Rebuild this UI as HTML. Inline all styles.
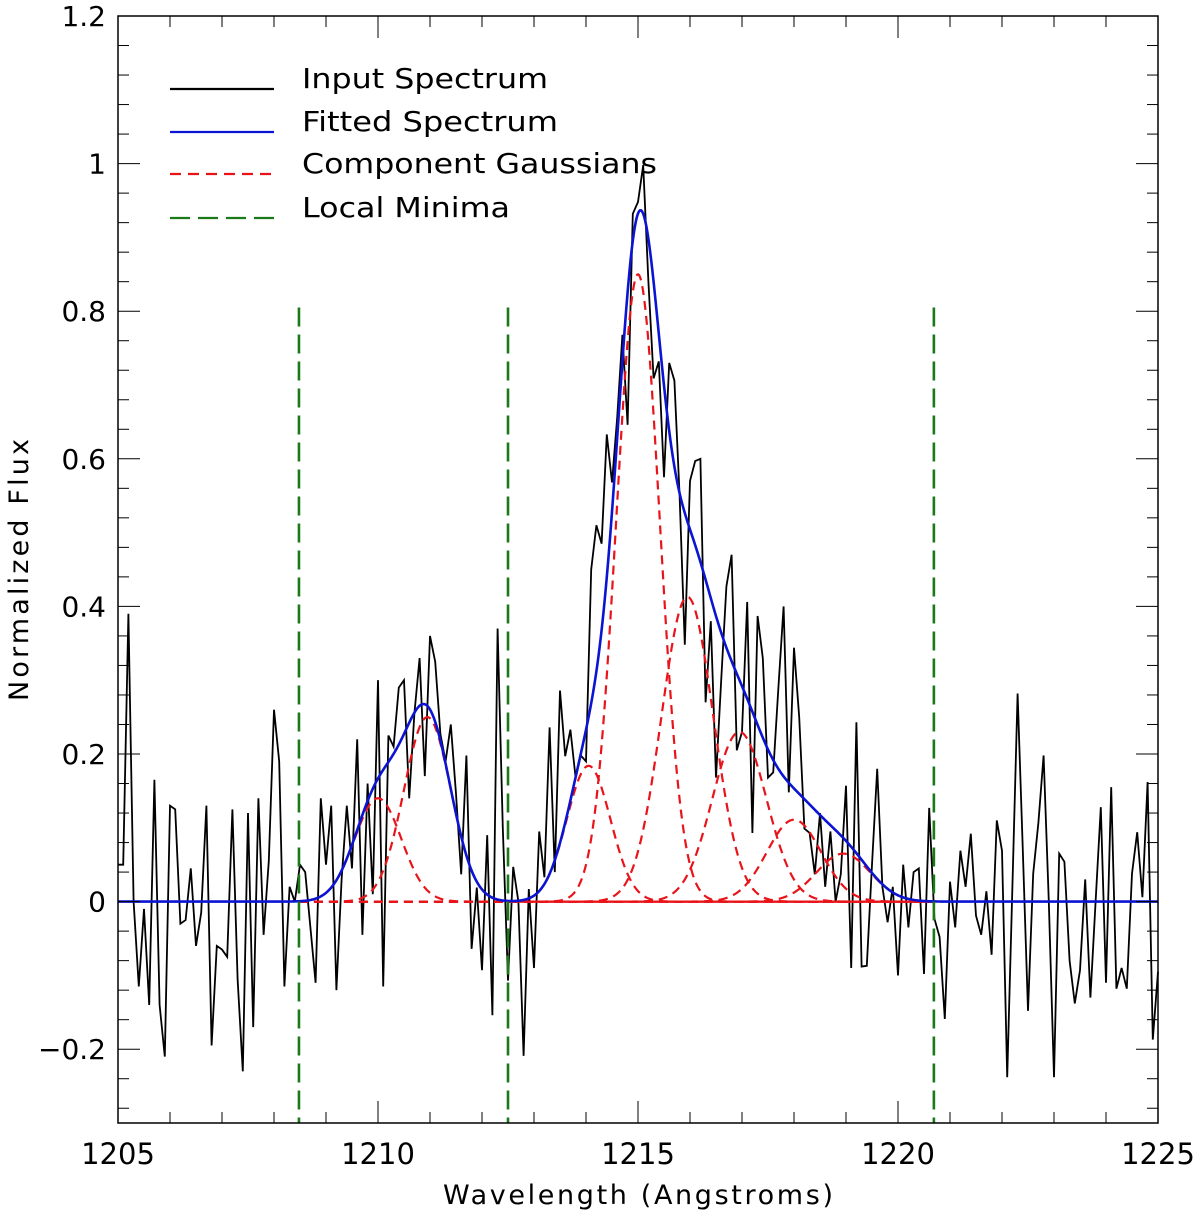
<!DOCTYPE html>
<html><head><meta charset="utf-8"><style>
html,body{margin:0;padding:0;background:#fff;}
svg{display:block;font-family:"DejaVu Sans","Liberation Sans",sans-serif;}
</style></head><body>
<svg id="chart" width="1200" height="1215" viewBox="0 0 1200 1215" xmlns="http://www.w3.org/2000/svg">
<rect x="0" y="0" width="1200" height="1215" fill="#fff"/>
<g id="plot"></g>
<g id="axes"></g>
<g id="legend"></g>
<text x="638" y="1204" font-size="27" text-anchor="middle" textLength="390" fill="#000">Wavelength (Angstroms)</text>
<text transform="translate(28,570) rotate(-90)" font-size="27" text-anchor="middle" textLength="262" fill="#000">Normalized Flux</text>
</svg>
<script>
const xStart = 1205.0;
const xStep = 0.1;
const fluxValues = [0.05,0.05,0.39,0.0,-0.115,-0.01,-0.14,0.165,-0.14,-0.21,
0.13,0.125,-0.03,-0.025,0.045,-0.06,-0.015,0.13,-0.195,-0.06,
-0.065,-0.075,0.125,-0.105,-0.23,0.12,-0.17,0.14,-0.045,0.055,
0.26,0.19,-0.115,0.02,0.0,0.05,0.04,-0.035,-0.11,0.14,
0.05,0.13,-0.12,0.03,0.13,0.045,0.22,-0.045,0.16,0.01,
0.30,-0.115,0.225,0.21,0.29,0.30,0.14,0.255,0.33,0.17,
0.36,0.325,0.227,0.19,0.24,0.146,0.037,0.198,-0.064,0.019,
-0.093,0.09,-0.154,0.37,0.1,-0.107,0.047,0.0,-0.209,0.017,
-0.09,0.095,0.033,0.236,0.04,0.286,0.197,0.233,0.168,0.198,
0.19,0.45,0.51,0.485,0.633,0.568,0.656,0.768,0.646,0.932,
0.948,0.998,0.84,0.709,0.732,0.575,0.73,0.706,0.55,0.348,
0.57,0.597,0.60,0.27,0.38,0.168,0.30,0.427,0.47,0.205,
0.23,0.406,0.093,0.387,0.33,0.168,0.175,0.29,0.40,0.148,
0.344,0.25,0.099,0.093,0.037,0.12,0.02,0.095,0.0,0.037,
0.157,-0.09,0.243,-0.088,-0.087,0.05,0.18,0.02,-0.028,0.02,
-0.10,0.05,-0.035,0.04,0.045,-0.098,0.127,-0.023,-0.048,-0.159,
0.027,-0.035,0.069,0.02,0.092,-0.019,-0.045,0.014,-0.072,0.11,
0.069,-0.238,0.02,0.282,0.07,-0.148,0.038,0.107,0.198,0.0,
-0.238,0.065,0.054,-0.08,-0.138,-0.093,0.03,-0.13,0.0,0.128,
-0.11,0.155,-0.118,-0.09,-0.118,0.038,0.094,0.006,0.162,-0.187,
-0.095];
const gaussCenters = [1210.0,1210.95,1214.05,1215.0,1215.95,1216.95,1218.0,1218.95];
const gaussAmps = [0.14,0.25,0.184,0.85,0.413,0.23,0.111,0.065];
const gaussSigmas = [0.45,0.45,0.42,0.42,0.5,0.52,0.52,0.52];
const minimaPositions = [1208.48,1212.5,1220.69];
const minimaTop = 0.805;
const xTicks = [1205,1210,1215,1220,1225];
const yTicks = [-0.2,0,0.2,0.4,0.6,0.8,1,1.2];
const yTickLabels = ["\u22120.2","0","0.2","0.4","0.6","0.8","1","1.2"];
const legendLabels = ["Input Spectrum","Fitted Spectrum","Component Gaussians","Local Minima"];

const L=118,R=1158,T=16,B=1123,XMIN=1205,XMAX=1225,YMIN=-0.3,YMAX=1.2;
const xs=v=>L+(v-XMIN)/(XMAX-XMIN)*(R-L);
const ys=v=>B-(v-YMIN)/(YMAX-YMIN)*(B-T);
const NS="http://www.w3.org/2000/svg";
function mk(tag,attrs,parent){const e=document.createElementNS(NS,tag);for(const k in attrs)e.setAttribute(k,attrs[k]);parent.appendChild(e);return e;}
const plot=document.getElementById('plot'),axes=document.getElementById('axes'),legend=document.getElementById('legend');

let d=fluxValues.map((v,i)=>(i?'L':'M')+xs(xStart+i*xStep).toFixed(2)+' '+ys(v).toFixed(2)).join(' ');
const inp=mk('path',{d:d,fill:'none',stroke:'#000','stroke-width':1.8,'stroke-linejoin':'miter'},plot);



const gA=minimaPositions[0],gB=minimaPositions[2];
function g(i,x){return gaussAmps[i]*Math.exp(-Math.pow(x-gaussCenters[i],2)/(2*gaussSigmas[i]*gaussSigmas[i]));}
for(let i=0;i<gaussCenters.length;i++){
  let p='';
  for(let x=gA;x<=gB+1e-9;x+=0.02){p+=(p?'L':'M')+xs(x).toFixed(2)+' '+ys(g(i,x)).toFixed(2)+' ';}
  const e=mk('path',{d:p,fill:'none',stroke:'#e8141a','stroke-width':2.2,'stroke-dasharray':'9 6'},plot);
  
  
}
const base=mk('line',{x1:xs(minimaPositions[1]),x2:xs(gB),y1:ys(0),y2:ys(0),stroke:'#e8141a','stroke-width':2.2},plot);



let f='';
for(let x=XMIN;x<=XMAX+1e-9;x+=0.02){let s=0;for(let i=0;i<gaussCenters.length;i++)s+=g(i,x);f+=(f?'L':'M')+xs(x).toFixed(2)+' '+ys(s).toFixed(2)+' ';}
const fit=mk('path',{d:f,fill:'none',stroke:'#0a14d2','stroke-width':2.6},plot);



minimaPositions.forEach((m,i)=>{
  const e=mk('line',{x1:xs(m),x2:xs(m),y1:ys(minimaTop),y2:B,stroke:'#1a7a1a','stroke-width':2.6,'stroke-dasharray':'19 8'},plot);
  
  
});

const box=mk('rect',{x:L,y:T,width:R-L,height:B-T,fill:'none',stroke:'#000','stroke-width':1.5},axes);


for(let v=XMIN;v<=XMAX;v+=1){
  const maj=(v%5===0),len=maj?22:11,x=xs(v);
  mk('line',{x1:x,x2:x,y1:B,y2:B-len,stroke:'#000','stroke-width':1},axes);
  mk('line',{x1:x,x2:x,y1:T,y2:T+len,stroke:'#000','stroke-width':1},axes);
}
for(let k=0;k<=37;k++){
  const v=-0.28+k*0.04;const vv=Math.round(v*100)/100;
  const maj=Math.abs(Math.round(vv*5)-vv*5)<1e-6,len=maj?22:11,y=ys(vv);
  mk('line',{x1:L,x2:L+len,y1:y,y2:y,stroke:'#000','stroke-width':1},axes);
  mk('line',{x1:R,x2:R-len,y1:y,y2:y,stroke:'#000','stroke-width':1},axes);
}
xTicks.forEach(v=>{
  const t=mk('text',{x:xs(v),y:1164,'font-size':29,'text-anchor':'middle',fill:'#000'},axes);
  t.textContent=String(v);
  
  
});
yTicks.forEach((v,i)=>{
  const t=mk('text',{x:106,y:ys(v)+10,'font-size':28,'text-anchor':'end',fill:'#000'},axes);
  t.textContent=yTickLabels[i];
  
  
});

const legY=[89,132,174,218],legW=[246,256,355,208];
const legStyle=[{stroke:'#000',dash:''},{stroke:'#0a14d2',dash:''},{stroke:'#e8141a',dash:'11 7'},{stroke:'#1a7a1a',dash:'20 8'}];
legendLabels.forEach((lab,i)=>{
  const ln=mk('line',{x1:170,x2:274,y1:legY[i],y2:legY[i],stroke:legStyle[i].stroke,'stroke-width':2.2},legend);
  if(legStyle[i].dash)ln.setAttribute('stroke-dasharray',legStyle[i].dash);
  
  
  const t=mk('text',{x:302,y:legY[i]-1,'font-size':28,textLength:legW[i],lengthAdjust:'spacingAndGlyphs',fill:'#000'},legend);
  t.textContent=lab;
  
  
});
</script>
</body></html>
